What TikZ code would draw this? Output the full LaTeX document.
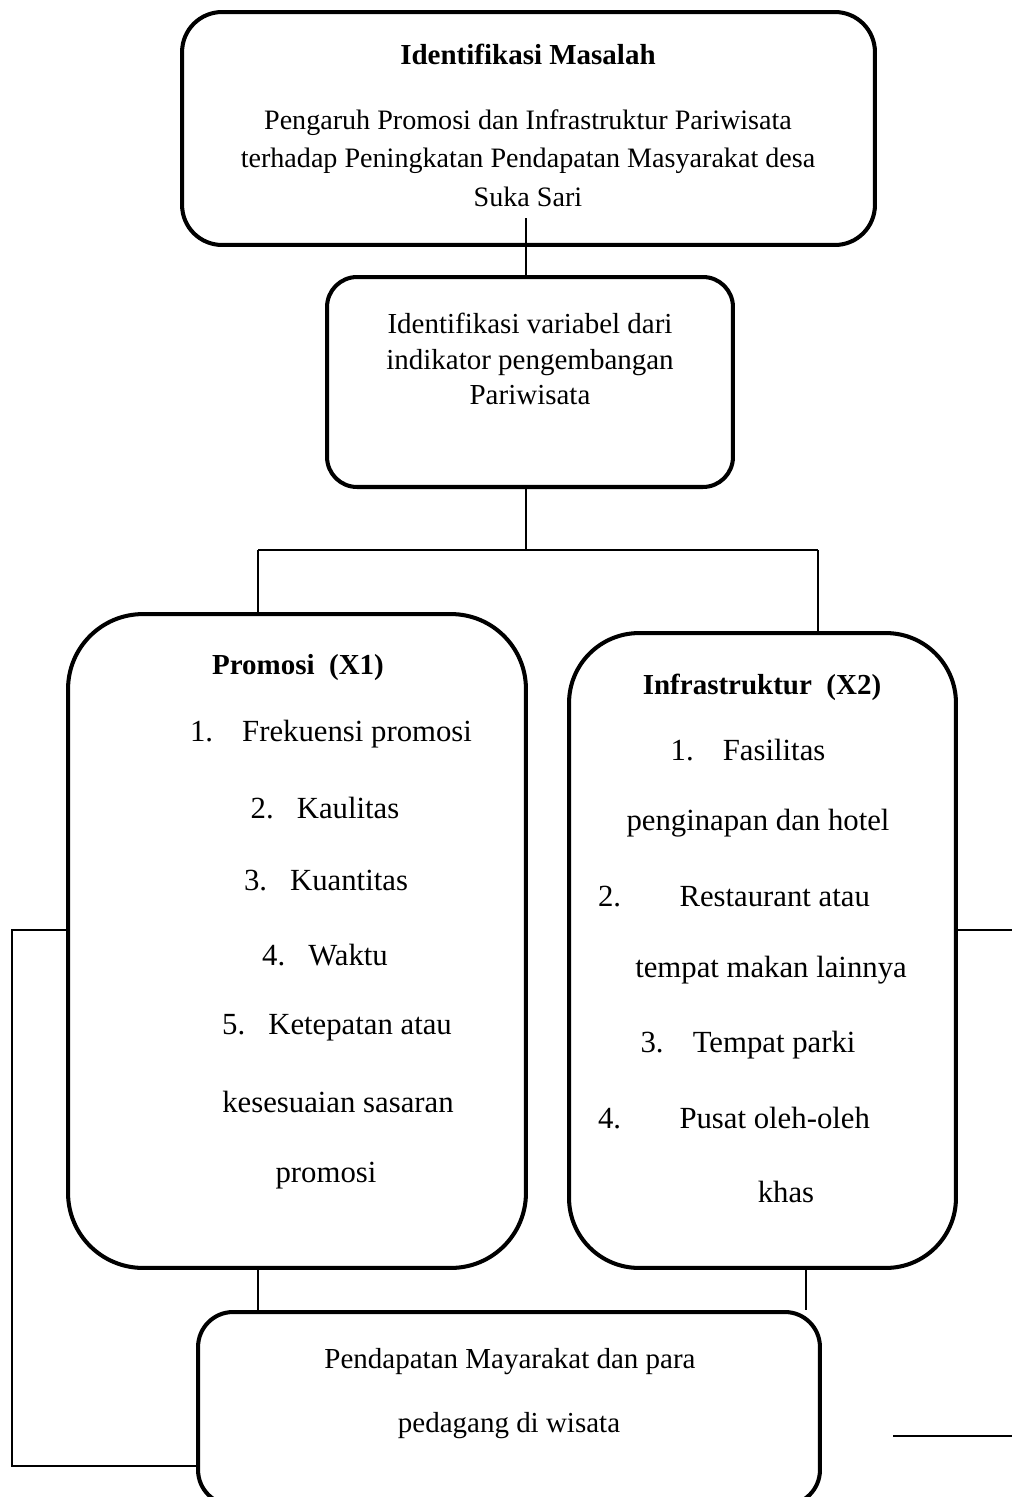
\documentclass[tikz,border=0pt]{standalone}
\usepackage{fontspec}
\setmainfont{Liberation Serif}

\tikzset{
  kotak/.style={draw, line width=2.3pt, rounded corners=#1, inner sep=0pt},
  garis/.style={line width=0.9pt},
  judul/.style={font=\fontsize{16.5}{20}\selectfont\bfseries},
  isi/.style={font=\fontsize{16}{22}\selectfont, align=center},
  daftar/.style={font=\fontsize{17.5}{21}\selectfont},
}

\begin{document}
\begin{tikzpicture}[x=0.02cm, y=-0.02cm]
  \useasboundingbox (0,0) rectangle (1012,1497);

  % kotak-kotak
  \node[kotak=0.8cm, minimum width=13.86cm, minimum height=4.66cm] (masalah) at (528.5,128.5) {};
  \node[kotak=0.6cm, minimum width=8.12cm, minimum height=4.2cm] (variabel) at (530,382) {};
  \node[kotak=1.5cm, minimum width=9.16cm, minimum height=13.08cm] (promosi) at (297,941) {};
  \node[kotak=1.4cm, minimum width=7.74cm, minimum height=12.7cm] (infra) at (762.5,950.5) {};
  \node[kotak=0.7cm, minimum width=12.44cm, minimum height=3.86cm] (pendapatan) at (509,1408.5) {};

  % teks kotak atas
  \node[judul] (tmasalah) at (528,54) {Identifikasi Masalah};
  \node[isi] (tpengaruh) at (528,158) {Pengaruh Promosi dan Infrastruktur Pariwisata\\
    terhadap Peningkatan Pendapatan Masyarakat desa\\ Suka Sari};
  \node[isi, font=\fontsize{16.5}{20.4}\selectfont] (tvariabel) at (530,359)
    {Identifikasi variabel dari\\ indikator pengembangan\\ Pariwisata};

  % promosi (X1)
  \node[judul] (tpromosi) at (298,668) {Promosi\ \ (X1)};
  \foreach \x/\y/\t [count=\i] in {331/734/{1.\hspace{0.95em}Frekuensi promosi},
      325/808/{2.\hspace{0.75em}Kaulitas}, 326/881/{3.\hspace{0.75em}Kuantitas},
      325/955/{4.\hspace{0.75em}Waktu}, 337/1028/{5.\hspace{0.75em}Ketepatan atau},
      338/1102/{kesesuaian sasaran}, 326/1176/{promosi}}
    \node[daftar] (p\i) at (\x,\y) {\t};

  % infrastruktur (X2)
  \node[judul] (tinfra) at (762,687) {Infrastruktur\ \ (X2)};
  \foreach \x/\y/\t [count=\i] in {748/750/{1.\hspace{0.95em}Fasilitas},
      758/823/{penginapan dan hotel}, 734/897/{2.\hspace{1.9em}Restaurant atau},
      771/970/{tempat makan lainnya}, 748/1045/{3.\hspace{0.95em}Tempat parki},
      734/1118/{4.\hspace{1.9em}Pusat oleh-oleh}, 786/1192/{khas}}
    \node[daftar] (q\i) at (\x,\y) {\t};

  % pendapatan
  \node[isi, font=\fontsize{16.5}{20}\selectfont] (tpend1) at (510,1362) {Pendapatan Mayarakat dan para};
  \node[isi, font=\fontsize{16.5}{20}\selectfont] (tpend2) at (509,1426) {pedagang di wisata};

  % garis penghubung
  \coordinate (c1) at (526,218);
  \coordinate (jl) at (258,550);
  \coordinate (jm) at (526,550);
  \coordinate (jr) at (818,550);
  \draw[garis] (c1) -- (c1 |- variabel.north);
  \draw[garis] (jm |- variabel.south) -- (jm);
  \draw[garis] (jl) -- (jr);
  \draw[garis] (jl) -- (jl |- promosi.north);
  \draw[garis] (jr) -- (jr |- infra.north);

  \coordinate (kl) at (258,1268);
  \coordinate (kr) at (806,1268);
  \draw[garis] (kl |- promosi.south) -- (kl |- pendapatan.north);
  \draw[garis] (kr |- infra.south) -- (kr |- pendapatan.north);

  \coordinate (lt) at (12,930);
  \coordinate (lb) at (12,1466);
  \draw[garis] (promosi.west |- lt) -- (lt) -- (lb) -- (lb -| pendapatan.west);
  \coordinate (rt) at (1012,930);
  \draw[garis] (infra.east |- rt) -- (rt);
  \coordinate (rb1) at (893,1436);
  \coordinate (rb2) at (1012,1436);
  \draw[garis] (rb1) -- (rb2);
\end{tikzpicture}
\end{document}
